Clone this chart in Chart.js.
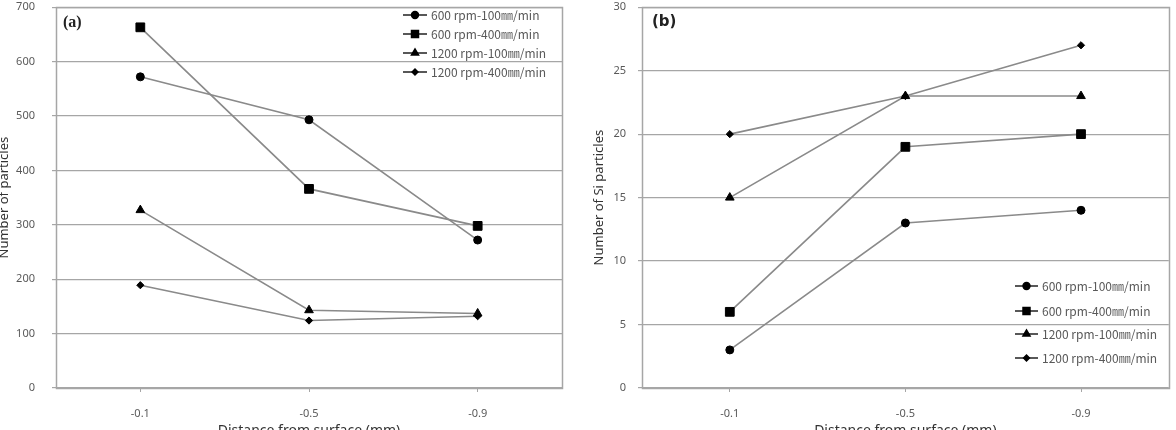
<!DOCTYPE html>
<html>
<head>
<meta charset="utf-8">
<script src="https://cdn.jsdelivr.net/npm/chart.js@4/dist/chart.umd.min.js"></script>
<style>
  html, body { margin: 0; padding: 0; background: #fff; }
  #wrap { position: relative; width: 1176px; height: 430px; overflow: hidden; }
  .panel { position: absolute; top: 0; width: 588px; height: 430px; }
</style>
</head>
<body>
<div id="wrap">
  <div class="panel" style="left:0"><canvas id="ca" width="588" height="430"></canvas></div>
  <div class="panel" style="left:588px"><canvas id="cb" width="588" height="430"></canvas></div>
</div>
<script>
// ---- data ----
const categories = ['-0.1', '-0.5', '-0.9'];
const seriesLabels = ['600 rpm-100㎜/min', '600 rpm-400㎜/min', '1200 rpm-100㎜/min', '1200 rpm-400㎜/min'];
const pointStyles = ['circle', 'rect', 'triangle', 'rectRot'];

// (a) Number of particles
const a600_100 = [572, 493, 272];
const a600_400 = [663, 366, 298];
const a1200_100 = [327, 143, 137];
const a1200_400 = [189, 124, 132];

// (b) Number of Si particles
const b600_100 = [3, 13, 14];
const b600_400 = [6, 19, 20];
const b1200_100 = [15, 23, 23];
const b1200_400 = [20, 23, 27];

const aTicks = { min: 0, max: 700, step: 100 };
const bTicks = { min: 0, max: 30, step: 5 };

// ---- styling ----
const LINE = '#8a8a8a';
const GRID = '#a6a6a6';
const TXT = '#595959';
const radii = [4, 6.2, 5, 3.6];
const legendRadii = [3.5, 5, 4.2, 3];

function makeDatasets(arrs) {
  return arrs.map((d, i) => ({
    label: seriesLabels[i],
    data: d,
    borderColor: LINE,
    borderWidth: 1.6,
    pointStyle: pointStyles[i],
    pointRadius: radii[i],
    pointHoverRadius: radii[i],
    pointBackgroundColor: '#000',
    pointBorderColor: '#000',
    pointBorderWidth: 1,
    tension: 0,
    fill: false
  }));
}

const panelPlugin = {
  id: 'panelDeco',
  afterDraw(chart, args, opts) {
    const ctx = chart.ctx;
    const ca = chart.chartArea;
    ctx.save();
    // plot border
    ctx.strokeStyle = GRID;
    ctx.lineWidth = 1.5;
    ctx.strokeRect(Math.round(ca.left) + 0.5, Math.round(ca.top) + 0.5,
                   Math.round(ca.right - ca.left), Math.round(ca.bottom - ca.top));
    // panel letter
    ctx.fillStyle = '#222';
    ctx.font = opts.letterFont;
    ctx.textBaseline = 'middle';
    ctx.textAlign = 'left';
    ctx.fillText(opts.letter, opts.letterX, opts.letterY);
    // legend
    const L = opts.legend;
    chart.data.datasets.forEach((ds, i) => {
      const y = L.ys[i];
      ctx.strokeStyle = '#111';
      ctx.lineWidth = 1.4;
      ctx.beginPath();
      ctx.moveTo(L.x1, y);
      ctx.lineTo(L.x2, y);
      ctx.stroke();
      ctx.fillStyle = '#000';
      ctx.strokeStyle = '#000';
      Chart.helpers.drawPoint(ctx, {
        pointStyle: ds.pointStyle, radius: legendRadii[i], rotation: 0, borderWidth: 1
      }, (L.x1 + L.x2) / 2, y);
      ctx.fillStyle = TXT;
      ctx.font = '12px "Noto Sans CJK KR", "Noto Sans", sans-serif';
      ctx.textAlign = 'left';
      ctx.textBaseline = 'middle';
      ctx.fillText(ds.label, L.tx, y + 0.5);
    });
    ctx.restore();
  }
};

function makeChart(id, arrs, tk, cfg) {
  return new Chart(document.getElementById(id), {
    type: 'line',
    data: { labels: categories, datasets: makeDatasets(arrs) },
    plugins: [panelPlugin],
    options: {
      responsive: false,
      animation: false,
      events: [],
      layout: { padding: { left: 0, right: cfg.padRight, top: 6, bottom: 0 } },
      plugins: {
        legend: { display: false },
        tooltip: { enabled: false },
        panelDeco: cfg.deco
      },
      scales: {
        x: {
          offset: true,
          border: { display: false },
          grid: { drawOnChartArea: false, drawTicks: true, tickLength: 4, color: GRID, offset: false },
          ticks: { color: TXT, font: { family: '"Noto Sans", sans-serif', size: 11 }, padding: 15, maxRotation: 0 },
          title: {
            display: true, text: 'Distance from surface (mm)', color: '#333',
            font: { family: '"Noto Sans", sans-serif', size: 14 },
            padding: { top: 0, bottom: -9 }
          },
          afterFit(axis) {
            axis.height = 430 - 388;
            axis.paddingLeft = 0; axis.paddingRight = 0;
          }
        },
        y: {
          min: tk.min, max: tk.max,
          border: { display: false },
          grid: { color: GRID, lineWidth: 1.2, drawTicks: true, tickLength: 4 },
          ticks: { stepSize: tk.step, color: TXT, font: { family: '"Noto Sans", sans-serif', size: 11 }, padding: cfg.yPad },
          title: {
            display: true, text: cfg.yTitle, color: '#333',
            font: { family: '"Noto Sans", sans-serif', size: 13 },
            padding: { top: cfg.yTitlePad, bottom: 0 }
          },
          afterFit(axis) {
            axis.width = cfg.yWidth;
            axis.paddingTop = 0; axis.paddingBottom = 0;
          }
        }
      }
    }
  });
}

makeChart('ca', [a600_100, a600_400, a1200_100, a1200_400], aTicks, {
  padRight: 26, yWidth: 56, yPad: 17, yTitle: 'Number of particles', yTitlePad: -4,
  deco: {
    letter: '(a)', letterX: 63, letterY: 23,
    letterFont: 'bold 16px "Liberation Serif", "DejaVu Serif", serif',
    legend: { x1: 403, x2: 427, tx: 431, ys: [15, 34, 53, 72] }
  }
});

makeChart('cb', [b600_100, b600_400, b1200_100, b1200_400], bTicks, {
  padRight: 4, yWidth: 54, yPad: 12, yTitle: 'Number of Si particles', yTitlePad: 3,
  deco: {
    letter: '(b)', letterX: 64, letterY: 22,
    letterFont: 'bold 15px "DejaVu Sans", sans-serif',
    legend: { x1: 1015 - 588, x2: 1038 - 588, tx: 1042 - 588, ys: [286, 311, 334, 358] }
  }
});
</script>
</body>
</html>
